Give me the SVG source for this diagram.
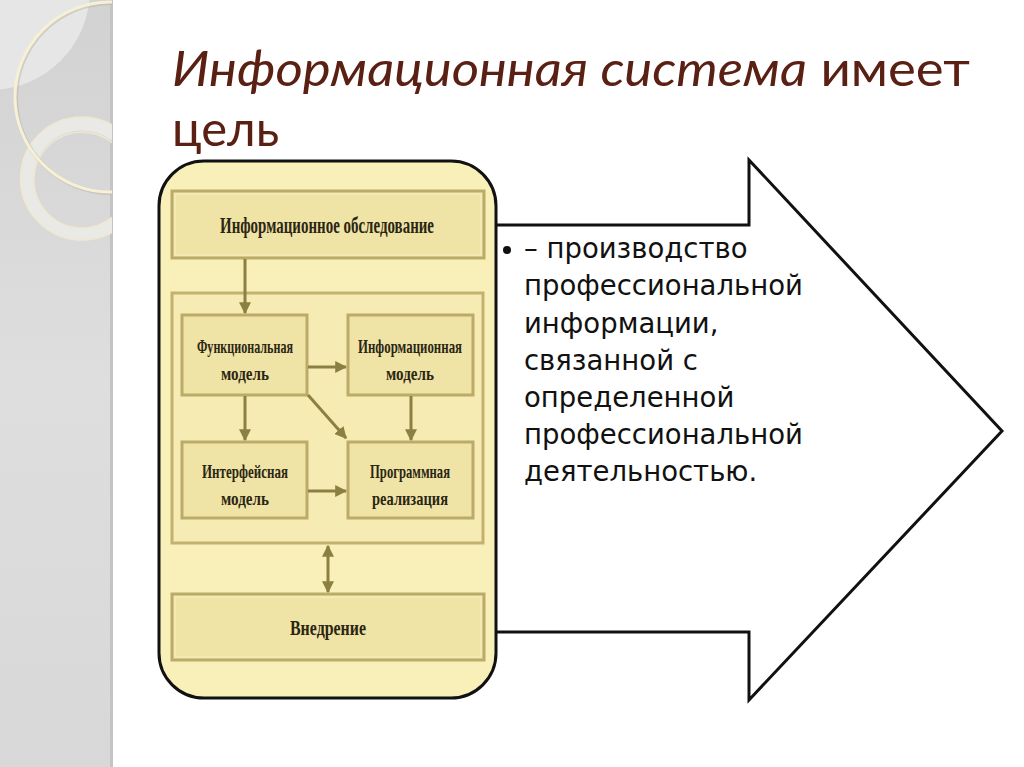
<svg xmlns="http://www.w3.org/2000/svg" width="1024" height="767" viewBox="0 0 1024 767">
  <defs>
    <linearGradient id="panel" x1="0" y1="0" x2="0" y2="1">
      <stop offset="0" stop-color="#d2d2d2"/>
      <stop offset="0.5" stop-color="#dedede"/>
      <stop offset="1" stop-color="#d8d8d8"/>
    </linearGradient>
    <clipPath id="panelClip"><rect x="0" y="0" width="112" height="767"/></clipPath>
    <marker id="ah" viewBox="0 0 10 10" refX="9" refY="5" markerWidth="4" markerHeight="4" orient="auto-start-reverse" markerUnits="strokeWidth">
      <path d="M0,0 L10,5 L0,10 z" fill="#8b8042"/>
    </marker>
    <style>
      .title{font-family:"Lato","Open Sans",sans-serif;font-size:49px;fill:#5a2014}
      .body{font-family:"DejaVu Sans","Noto Sans",sans-serif;font-size:27.5px;fill:#111}
      .lbl{font-family:"Liberation Serif","DejaVu Serif",serif;font-weight:bold;fill:#2b2612;text-anchor:middle}
      .box{fill:#efe3a6;stroke:#bcab68;stroke-width:3}
      .hl{fill:none;stroke:#f7efc4;stroke-width:1}
      .conn{stroke:#8b8042;stroke-width:3;fill:none;marker-end:url(#ah)}
    </style>
  </defs>

  <rect x="0" y="0" width="1024" height="767" fill="#ffffff"/>

  <!-- left decorative panel -->
  <g id="panel-deco">
    <rect x="0" y="0" width="112" height="767" fill="url(#panel)"/>
    <rect x="110" y="0" width="3" height="767" fill="#c4c4c4"/>
    <g clip-path="url(#panelClip)">
      <circle cx="-10" cy="-10" r="100" fill="#e6e6e6"/>
      <circle cx="82" cy="179" r="55" fill="none" stroke="#e9e9e6" stroke-width="13"/>
      <circle cx="82" cy="178.5" r="61.5" fill="none" stroke="#efe8cf" stroke-width="1.5"/>
      <circle cx="82" cy="180" r="48" fill="none" stroke="#efe8cf" stroke-width="1.5"/>
      <circle cx="111" cy="98" r="95" fill="none" stroke="#b9b3a0" stroke-width="4" opacity="0.5"/>
      <circle cx="110" cy="97" r="95" fill="none" stroke="#f6f0d6" stroke-width="3"/>
    </g>
  </g>

  <!-- title -->
  <g id="title">
    <text class="title" x="172" y="86" textLength="798" lengthAdjust="spacingAndGlyphs"><tspan font-style="italic">Информационная система</tspan> имеет</text>
    <text class="title" x="172" y="146">цель</text>
  </g>

  <!-- big right arrow -->
  <g id="big-arrow">
    <polygon points="470,225 749,225 749,160 1002,431 749,700 749,632 470,632" fill="#ffffff" stroke="#111111" stroke-width="3" stroke-linejoin="miter"/>
    <circle cx="507" cy="250" r="4" fill="#111"/>
    <text class="body" x="524" y="258">– производство</text>
    <text class="body" x="524" y="295">профессиональной</text>
    <text class="body" x="524" y="333">информации,</text>
    <text class="body" x="524" y="370">связанной с</text>
    <text class="body" x="524" y="407">определенной</text>
    <text class="body" x="524" y="444">профессиональной</text>
    <text class="body" x="524" y="481">деятельностью.</text>
  </g>

  <!-- yellow container -->
  <g id="container">
    <rect x="159" y="161" width="337" height="537" rx="45" ry="45" fill="#f9f0b9" stroke="#111111" stroke-width="3"/>
  </g>

  <g id="node-survey">
    <rect class="box" x="172" y="191" width="312" height="67"/>
    <rect class="hl" x="175" y="194" width="306" height="61"/>
    <text class="lbl" x="327" y="233" font-size="23" textLength="214" lengthAdjust="spacingAndGlyphs">Информационное обследование</text>
  </g>

  <g id="node-group">
    <rect x="172" y="293" width="311" height="250" fill="#f6ebb2" stroke="#c3b26f" stroke-width="3"/>
  </g>

  <g id="node-func">
    <rect class="box" x="182" y="315" width="125" height="80"/>
    <text class="lbl" x="245" y="353" font-size="19" textLength="96" lengthAdjust="spacingAndGlyphs">Функциональная</text>
    <text class="lbl" x="245" y="380" font-size="19" textLength="48" lengthAdjust="spacingAndGlyphs">модель</text>
  </g>

  <g id="node-info">
    <rect class="box" x="348" y="315" width="125" height="80"/>
    <text class="lbl" x="410" y="353" font-size="19" textLength="104" lengthAdjust="spacingAndGlyphs">Информационная</text>
    <text class="lbl" x="410" y="380" font-size="19" textLength="48" lengthAdjust="spacingAndGlyphs">модель</text>
  </g>

  <g id="node-iface">
    <rect class="box" x="182" y="442" width="125" height="76"/>
    <text class="lbl" x="245" y="478" font-size="19" textLength="86" lengthAdjust="spacingAndGlyphs">Интерфейсная</text>
    <text class="lbl" x="245" y="505" font-size="19" textLength="48" lengthAdjust="spacingAndGlyphs">модель</text>
  </g>

  <g id="node-prog">
    <rect class="box" x="348" y="442" width="125" height="76"/>
    <text class="lbl" x="410" y="478" font-size="19" textLength="80" lengthAdjust="spacingAndGlyphs">Программная</text>
    <text class="lbl" x="410" y="505" font-size="19" textLength="76" lengthAdjust="spacingAndGlyphs">реализация</text>
  </g>

  <g id="node-deploy">
    <rect class="box" x="172" y="594" width="312" height="66"/>
    <rect class="hl" x="175" y="597" width="306" height="60"/>
    <text class="lbl" x="328" y="635" font-size="22" textLength="76" lengthAdjust="spacingAndGlyphs">Внедрение</text>
  </g>

  <!-- connectors -->
  <g id="connectors">
    <line class="conn" x1="245" y1="259" x2="245" y2="313"/>
    <line class="conn" x1="308" y1="367" x2="346" y2="367"/>
    <line class="conn" x1="245" y1="396" x2="245" y2="440"/>
    <line class="conn" x1="411" y1="396" x2="411" y2="440"/>
    <line class="conn" x1="308" y1="395" x2="346" y2="438"/>
    <line class="conn" x1="308" y1="491" x2="346" y2="491"/>
    <line class="conn" x1="328" y1="546" x2="328" y2="592" marker-start="url(#ah)"/>
  </g>
</svg>
